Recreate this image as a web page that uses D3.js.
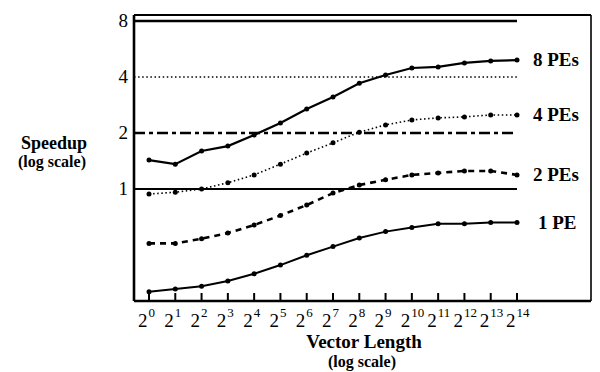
<!DOCTYPE html>
<html>
<head>
<meta charset="utf-8">
<script src="https://cdn.jsdelivr.net/npm/d3@7"></script>
<style>
  body { margin: 0; background: #fff; }
  svg { display: block; }
  text { font-family: "Liberation Serif", "Times New Roman", serif; fill: #000; }
</style>
</head>
<body>
<svg id="chart" width="600" height="372"></svg>
<script>
// vector lengths are 2^0 .. 2^14
const exponents = [0, 1, 2, 3, 4, 5, 6, 7, 8, 9, 10, 11, 12, 13, 14];
const yTicks = [1, 2, 4, 8];

const pe8 = [1.43, 1.36, 1.6, 1.7, 1.95, 2.26, 2.69, 3.12, 3.7, 4.1, 4.47, 4.53, 4.76, 4.88, 4.93];
const pe4 = [0.94, 0.96, 1.0, 1.08, 1.19, 1.36, 1.56, 1.77, 2.02, 2.21, 2.35, 2.41, 2.44, 2.5, 2.5];
const pe2 = [0.51, 0.51, 0.54, 0.58, 0.64, 0.72, 0.82, 0.95, 1.05, 1.12, 1.19, 1.22, 1.25, 1.25, 1.19];
const pe1 = [0.28, 0.29, 0.30, 0.32, 0.35, 0.39, 0.44, 0.49, 0.545, 0.59, 0.62, 0.65, 0.65, 0.66, 0.66];

const seriesLabels = ["8 PEs", "4 PEs", "2 PEs", "1 PE"];
const seriesValues = [pe8, pe4, pe2, pe1];
const seriesDash = [null, "1.5,2.6", "6,5", null];
const seriesWidth = [2.2, 1.6, 2.6, 2];

// ideal speedup reference lines
const refValues = [8, 4, 2, 1];
const refDash = [null, "1.5,2.6", "11,4,4,4", null];
const refWidth = [2.6, 1.5, 2.6, 2];

const svg = d3.select("#chart");
const plotL = 134, plotR = 591, plotT = 15, plotB = 301;

const x = d3.scaleLog().base(2).domain([1, Math.pow(2, 14)]).range([149, 517]);
const y = d3.scaleLog().base(2).domain([0.25, 8.61]).range([plotB, plotT]);

// frame
svg.append("line").attr("x1", plotL).attr("x2", plotR).attr("y1", plotT).attr("y2", plotT)
  .attr("stroke", "#000").attr("stroke-width", 2);
svg.append("line").attr("x1", plotR).attr("x2", plotR).attr("y1", plotT).attr("y2", plotB)
  .attr("stroke", "#000").attr("stroke-width", 1.6);
svg.append("line").attr("x1", plotL).attr("x2", plotL).attr("y1", plotT).attr("y2", plotB)
  .attr("stroke", "#000").attr("stroke-width", 2.6);
svg.append("line").attr("x1", plotL).attr("x2", plotR).attr("y1", plotB).attr("y2", plotB)
  .attr("stroke", "#000").attr("stroke-width", 2.6);

// x ticks (pointing inward) + labels with superscripts
const xg = svg.append("g");
exponents.forEach(e => {
  const px = x(Math.pow(2, e));
  xg.append("line").attr("x1", px).attr("x2", px).attr("y1", plotB).attr("y2", plotB - 8)
    .attr("stroke", "#000").attr("stroke-width", 2);
  const t = xg.append("text").attr("x", px - 11).attr("y", 327).attr("font-size", 19);
  t.append("tspan").text("2");
  t.append("tspan").attr("font-size", 13).attr("dy", -10).attr("dx", 1).text(e);
});

// y tick labels
svg.append("g").selectAll("text").data(yTicks).join("text")
  .attr("x", 128).attr("y", d => y(d) + 6)
  .attr("text-anchor", "end").attr("font-size", 19)
  .text(d => d);

// reference lines
refValues.forEach((v, i) => {
  svg.append("line")
    .attr("x1", plotL).attr("x2", x(Math.pow(2, 14)))
    .attr("y1", y(v)).attr("y2", y(v))
    .attr("stroke", "#000")
    .attr("stroke-width", refWidth[i])
    .attr("stroke-dasharray", refDash[i]);
});

// curves
const line = d3.line()
  .x((d, i) => x(Math.pow(2, exponents[i])))
  .y(d => y(d));

seriesValues.forEach((vals, i) => {
  const g = svg.append("g");
  g.append("path").datum(vals)
    .attr("d", line)
    .attr("fill", "none")
    .attr("stroke", "#000")
    .attr("stroke-width", seriesWidth[i])
    .attr("stroke-dasharray", seriesDash[i]);
  g.selectAll("circle").data(vals).join("circle")
    .attr("cx", (d, j) => x(Math.pow(2, exponents[j])))
    .attr("cy", d => y(d))
    .attr("r", 2.5)
    .attr("fill", "#000");
  g.append("text")
    .attr("x", x(Math.pow(2, 14)) + (i === 3 ? 21 : 16))
    .attr("y", y(vals[vals.length - 1]) + 6)
    .attr("font-size", 19).attr("font-weight", "bold")
    .text(seriesLabels[i]);
});

// axis titles
svg.append("text").attr("x", 54).attr("y", 149).attr("text-anchor", "middle")
  .attr("font-size", 18).attr("font-weight", "bold").text("Speedup");
svg.append("text").attr("x", 52).attr("y", 167).attr("text-anchor", "middle")
  .attr("font-size", 16).attr("font-weight", "bold").text("(log scale)");
svg.append("text").attr("x", 364).attr("y", 348).attr("text-anchor", "middle")
  .attr("font-size", 19).attr("font-weight", "bold").text("Vector Length");
svg.append("text").attr("x", 362).attr("y", 367).attr("text-anchor", "middle")
  .attr("font-size", 16).attr("font-weight", "bold").text("(log scale)");
</script>
</body>
</html>
